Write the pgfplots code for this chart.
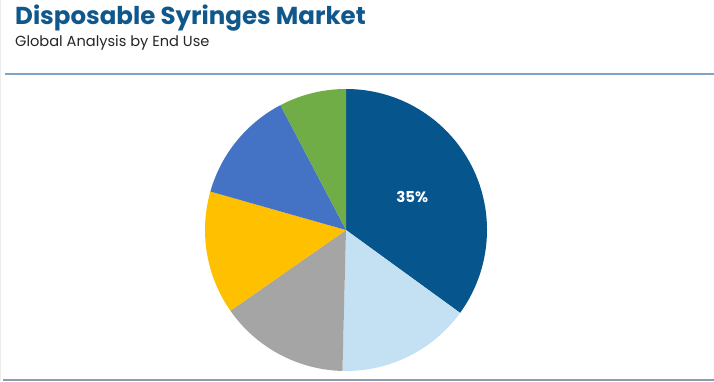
\documentclass[border=0pt]{standalone}
\usepackage{fontspec}
\setmainfont{Poppins}
\usepackage{pgfplots}
\usepackage{pgfplotstable}
\pgfplotsset{compat=1.18}
\definecolor{c1}{RGB}{6,86,141}
\definecolor{c2}{RGB}{196,224,243}
\definecolor{c3}{RGB}{165,165,165}
\definecolor{c4}{RGB}{255,192,0}
\definecolor{c5}{RGB}{68,114,196}
\definecolor{c6}{RGB}{112,173,71}
\definecolor{titlec}{RGB}{16,88,140}
\definecolor{linec}{RGB}{125,165,200}
\definecolor{bottomc}{RGB}{140,155,175}
\pgfplotstableread{
seg value color
A 35.0 c1
B 15.4 c2
C 14.9 c3
D 14.1 c4
E 12.9 c5
F 7.7 c6
}\piedata
\begin{document}
\begin{tikzpicture}
\fill[white] (0,0) rectangle (714pt,381pt);
\useasboundingbox (0,0) rectangle (714pt,381pt);
\draw[gray!15, line width=1pt] (0.5pt,0) -- (0.5pt,381pt);
\node[anchor=base west, inner sep=0pt, text=titlec, font=\fontsize{24.5}{28}\selectfont\bfseries] at (15pt,356pt) {Disposable Syringes Market};
\node[anchor=base west, inner sep=0pt, text=black!85, font=\fontsize{14.6}{17}\selectfont] at (15pt,334pt) {Global Analysis by End Use};
\draw[linec, line width=1.5pt] (5pt,307pt) -- (714pt,307pt);
\draw[bottomc, line width=2pt] (3pt,1pt) -- (714pt,1pt);
\begin{axis}[
  anchor=center, at={(346pt,151pt)},
  width=282pt, height=282pt, scale only axis,
  xmin=-1, xmax=1, ymin=-1, ymax=1,
  hide axis, clip=false]
\def\cum{90}
\pgfplotsforeachungrouped \i in {0,...,5}{
  \pgfplotstablegetelem{\i}{value}\of\piedata \let\v\pgfplotsretval
  \pgfplotstablegetelem{\i}{color}\of\piedata \let\c\pgfplotsretval
  \pgfmathsetmacro\endang{\cum-3.6*\v}
  \pgfmathsetmacro\sx{cos(\cum)}
  \pgfmathsetmacro\sy{sin(\cum)}
  \edef\temp{\noexpand\fill[\c] (axis cs:0,0) -- (axis cs:\sx,\sy) arc[start angle=\cum, end angle=\endang, radius=141pt] -- cycle;}
  \temp
  \global\let\cum\endang
}
\node[text=white, font=\fontsize{15}{17}\selectfont\bfseries] at (axis cs:0.47,0.235) {35\%};
\end{axis}
\end{tikzpicture}
\end{document}
